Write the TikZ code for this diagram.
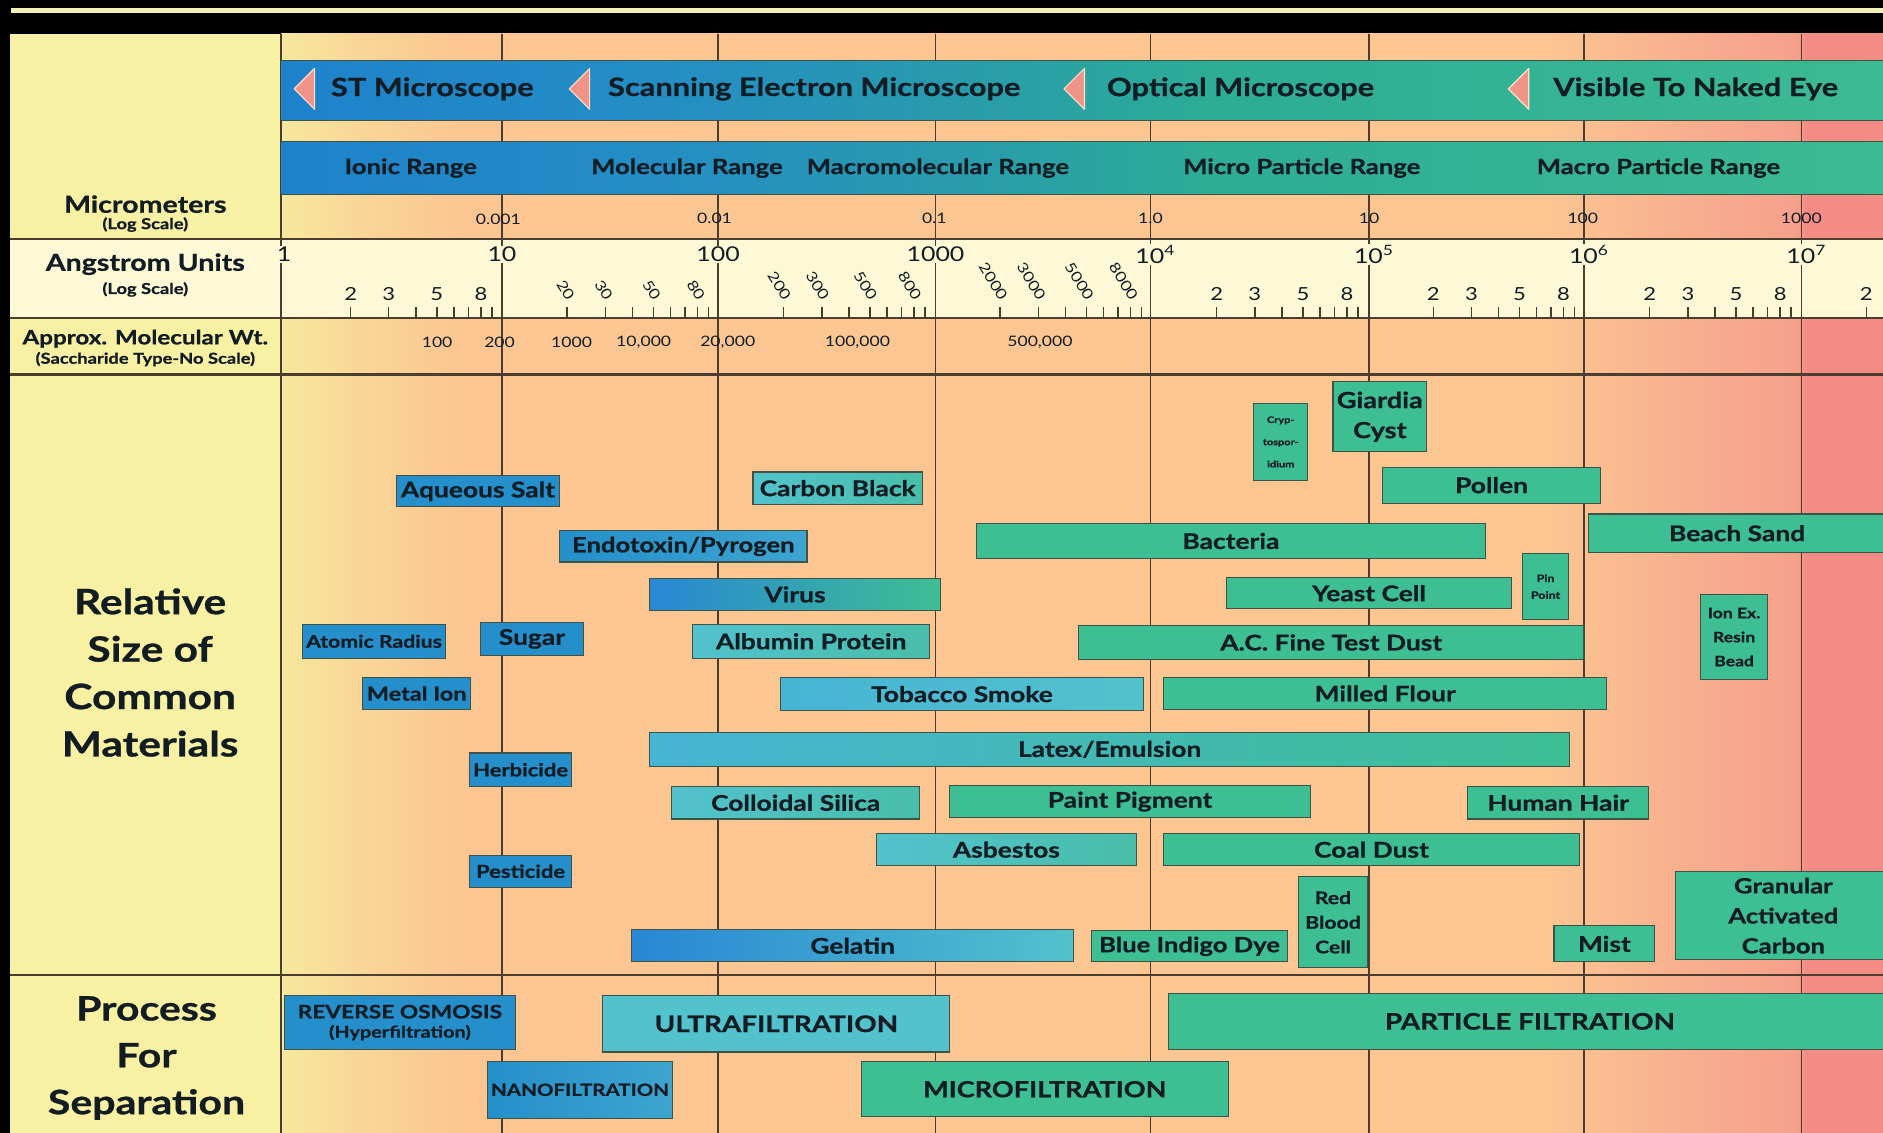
\documentclass[tikz,border=0pt]{standalone}
\usepackage{fontspec}
\setmainfont{Lato}[FakeStretch=1.22,BoldFeatures={FakeBold=0.8}]
\newcommand{\fs}[2]{\fontsize{#1}{#2}\selectfont}
\definecolor{cYel}{RGB}{248,240,162}
\definecolor{cCream}{RGB}{253,248,214}
\definecolor{cBlue}{RGB}{36,143,202}
\definecolor{cBlueL}{RGB}{62,165,208}
\definecolor{cBlueV}{RGB}{40,135,212}
\definecolor{cCyan}{RGB}{82,194,205}
\definecolor{cCyanB}{RGB}{70,180,212}
\definecolor{cCyanG}{RGB}{72,190,170}
\definecolor{cGreen}{RGB}{62,190,147}
\definecolor{bordc}{RGB}{62,82,70}
\definecolor{gridc}{RGB}{75,62,48}
\definecolor{txt}{RGB}{18,28,35}
\definecolor{triC}{RGB}{240,148,136}
\definecolor{triE}{RGB}{252,225,205}
\definecolor{topY}{RGB}{240,238,176}
\definecolor{bgA}{RGB}{246,232,158}
\definecolor{bgB}{RGB}{249,214,150}
\definecolor{bgC}{RGB}{251,198,146}
\definecolor{bgD}{RGB}{248,174,142}
\definecolor{bgE}{RGB}{246,160,140}
\definecolor{bgF}{RGB}{244,140,134}
\definecolor{bA}{RGB}{30,130,202}
\definecolor{bB}{RGB}{36,142,196}
\definecolor{bC}{RGB}{40,155,172}
\definecolor{bD}{RGB}{45,172,150}
\definecolor{bE}{RGB}{60,186,145}
\pgfdeclarehorizontalshading{bgsh}{100bp}{color(0bp)=(bgA); color(25bp)=(bgA); color(27.5bp)=(bgB); color(30.5bp)=(bgC); color(64.5bp)=(bgC); color(69bp)=(bgD); color(72.3bp)=(bgE); color(72.6bp)=(bgF); color(75bp)=(bgF); color(100bp)=(bgF)}
\pgfdeclarehorizontalshading{bandsh}{100bp}{color(0bp)=(bA); color(25bp)=(bA); color(37bp)=(bB); color(46bp)=(bC); color(54bp)=(bD); color(75bp)=(bE); color(100bp)=(bE)}
\newcommand{\bx}[7]{\node[mat,#6,minimum width={(#4)-(#2)},minimum height={(#5)-(#3)}] (#1) at ({((#2)+(#4))/2},{((#3)+(#5))/2}) {#7};}
\begin{document}
\begin{tikzpicture}[x=1pt,y=-1pt,
 mat/.style={draw=bordc,line width=0.9pt,inner sep=0pt,outer sep=0pt,text=txt,align=center,font=\bfseries\fs{18}{20}},
 blu/.style={fill=cBlue},
 grn/.style={fill=cGreen},
 cyn/.style={fill=cCyan},
 grad/.style 2 args={left color=#1,right color=#2},
 sm/.style={font=\bfseries\fs{15}{16}},
 gridl/.style={draw=gridc,line width=1.3pt},
 hrule/.style={draw=gridc,line width=2pt},
 hd/.style={text=txt,font=\bfseries\fs{19.5}{21},inner sep=0pt,align=center},
 sub/.style={text=txt,font=\bfseries\fs{12.5}{13},inner sep=0pt},
 scop/.style={text=txt,font=\bfseries\fs{21}{24},inner sep=0pt},
 rng/.style={text=txt,font=\bfseries\fs{17.5}{19},inner sep=0pt},
 um/.style={text=txt,font=\fs{12}{12},inner sep=0pt},
 ang/.style={text=txt,font=\fs{17}{17},inner sep=1pt,fill=cCream},
 angm/.style={text=txt,font=\fs{15}{15},inner sep=0.5pt},
 angr/.style={text=txt,font=\fs{12}{12},inner sep=0pt,rotate=-58,anchor=east},
 mw/.style={text=txt,font=\fs{12}{12},inner sep=0pt},
 tri/.style={fill=triC,draw=triE,line width=1pt,line join=round},
 big/.style={text=txt,font=\bfseries\fs{29}{39.5},align=center,inner sep=0pt}
]
\useasboundingbox (0,0) rectangle (1568,943.4);
% frame and backgrounds
\fill[black] (0,0) rectangle (1568,943.4);
\fill[topY] (9,7) rectangle (1568,11);
\shade[shading=bgsh] (234,28) rectangle (1568,943.4);
\fill[cYel] (8,28) rectangle (234,943.4);
\fill[cCream] (8,199) rectangle (1568,265);
% grid
\foreach \x in {234,418,598,779,958,1140,1319,1500} \draw[gridl] (\x,28) -- (\x,943.4);
\foreach \y in {199,265,312,812} \draw[hrule] (8,\y) -- (1568,\y);
% bands
\shade[shading=bandsh] (234,50) rectangle (1568,100);
\draw[bordc,line width=0.8pt] (234,50) -- (1568,50) (234,100) -- (1568,100);
\shade[shading=bandsh] (234,118) rectangle (1568,162);
\draw[bordc,line width=0.8pt] (234,118) -- (1568,118) (234,162) -- (1568,162);
\foreach \x in {245,474,886,1256} \filldraw[tri] (\x,74) -- (\x+17,57) -- (\x+17,91) -- cycle;
\node[scop] (stm) at (360,74) {ST Microscope};
\node[scop] (sem) at (678,74) {Scanning Electron Microscope};
\node[scop] (opt) at (1033,74) {Optical Microscope};
\node[scop] (vis) at (1412,74) {Visible To Naked Eye};
\node[rng] (r1) at (342,140) {Ionic Range};
\node[rng] (r2) at (572,140) {Molecular Range};
\node[rng] (r3) at (781,140) {Macromolecular Range};
\node[rng] (r4) at (1084,140) {Micro Particle Range};
\node[rng] (r5) at (1381,140) {Macro Particle Range};
% micrometer labels
\node[um] (u1) at (415,183) {0.001};
\node[um] (u2) at (595,182) {0.01};
\node[um] (u3) at (778,182) {0.1};
\node[um] (u4) at (958,182) {1.0};
\node[um] (u5) at (1140,182) {10};
\node[um] (u6) at (1318,182) {100};
\node[um] (u7) at (1500,182) {1000};
% angstrom labels
\node[ang] (a0) at (236.5,212) {1};
\node[ang] (a1) at (418,212) {10};
\node[ang] (a2) at (598,212) {100};
\node[ang] (a3) at (779,212) {1000};
\node[ang] (a4) at (962,212) {10\textsuperscript{4}};
\node[ang] (a5) at (1144,212) {10\textsuperscript{5}};
\node[ang] (a6) at (1323,212) {10\textsuperscript{6}};
\node[ang] (a7) at (1504,212) {10\textsuperscript{7}};
\foreach \k in {0,...,7} \foreach \m in {2,...,9}
  \draw[gridc,line width=1.2pt] ({237.7+180.3*(\k+log10(\m))},256) -- ({237.7+180.3*(\k+log10(\m))},265);
\foreach \k in {0,4,5,6} \foreach \m in {2,3,5,8}
  \node[angm] (t\k\m) at ({237.7+180.3*(\k+log10(\m))},245) {\m};
\node[angm] (t72) at ({237.7+180.3*(7+log10(2))},245) {2};
\foreach \k/\s in {1/0,2/00,3/000} \foreach \m in {2,3,5,8}
  \node[angr] (r\k\m) at ({241+180.3*(\k+log10(\m))},249) {\m\s};
% molecular weight labels
\node[mw] (w1) at (364,285) {100};
\node[mw] (w2) at (416,285) {200};
\node[mw] (w3) at (476,285) {1000};
\node[mw] (w4) at (536,285) {10,000};
\node[mw] (w5) at (606,285) {20,000};
\node[mw] (w6) at (714,285) {100,000};
\node[mw] (w7) at (866,285) {500,000};
% left column
\node[hd] (hmic) at (121,170) {Micrometers};
\node[sub] (hmicls) at (121,187) {(Log Scale)};
\node[hd] (hang) at (121,220) {Angstrom Units};
\node[sub] (hangls) at (121,241) {(Log Scale)};
\node[hd,font=\bfseries\fs{16.5}{18}] (hmw) at (121,282) {Approx. Molecular Wt.};
\node[sub] (hmwsub) at (121,299) {(Saccharide Type-No Scale)};
\node[big] (hrel) at (125,560) {Relative\\Size of\\Common\\Materials};
\node[big,font=\bfseries\fs{28}{39}] (hproc) at (122,881) {Process\\For\\Separation};
% materials
\bx{aq}{330}{396}{466}{422}{blu}{Aqueous Salt}
\bx{cb}{627}{393}{768}{420}{grad={cCyan}{cCyanG}}{Carbon Black}
\bx{endo}{466}{442}{672}{468}{grad={cBlue}{cBlueL},font=\bfseries\fs{17.5}{19}}{Endotoxin/Pyrogen}
\bx{virus}{541}{482}{783}{508}{grad={cBlueV}{cGreen}}{Virus}
\bx{atom}{252}{520}{371}{548}{blu,font=\bfseries\fs{14.5}{15}}{Atomic Radius}
\bx{sugar}{400}{518}{486}{546}{blu}{Sugar}
\bx{alb}{577}{520}{774}{548}{grad={cCyan}{cCyanG}}{Albumin Protein}
\bx{metal}{302}{564}{392}{591}{blu,font=\bfseries\fs{16}{17}}{Metal Ion}
\bx{tob}{650}{564}{952}{592}{grad={cCyanB}{cCyan}}{Tobacco Smoke}
\bx{latex}{541}{610}{1307}{638}{grad={cCyanB}{cGreen}}{Latex/Emulsion}
\bx{herb}{391}{627}{476}{655}{blu,sm}{Herbicide}
\bx{coll}{559}{655}{766}{682}{grad={cCyan}{cCyanG}}{Colloidal Silica}
\bx{paint}{791}{654}{1091}{681}{grn}{Paint Pigment}
\bx{hair}{1222}{655}{1373}{682}{grn}{Human Hair}
\bx{asb}{730}{694}{946}{721}{grad={cCyan}{cCyanG}}{Asbestos}
\bx{coal}{969}{694}{1315}{721}{grn}{Coal Dust}
\bx{pest}{391}{712}{476}{739}{blu,sm}{Pesticide}
\bx{rbc}{1081}{730}{1139}{806}{grn,font=\bfseries\fs{14.5}{20.5}}{Red\\Blood\\Cell}
\bx{gel}{526}{774}{894}{801}{grad={cBlueV}{cCyan}}{Gelatin}
\bx{indigo}{909}{775}{1072}{801}{grn,font=\bfseries\fs{17.5}{19}}{Blue Indigo Dye}
\bx{mist}{1294}{771}{1378}{801}{grn}{Mist}
\bx{gac}{1395}{726}{1575}{799}{grn,font=\bfseries\fs{17.5}{25}}{Granular\\Activated\\Carbon}
\bx{crypto}{1044}{336}{1089}{400}{grn,font=\bfseries\fs{7.5}{18.5}}{Cryp-\\tospor-\\idium}
\bx{giardia}{1110}{318}{1188}{376}{grn,font=\bfseries\fs{18.5}{25}}{Giardia\\Cyst}
\bx{pollen}{1151}{389}{1333}{419}{grn}{Pollen}
\bx{bact}{813}{436}{1237}{465}{grn}{Bacteria}
\bx{sand}{1323}{428}{1570}{460}{grn}{Beach Sand}
\bx{yeast}{1021}{481}{1259}{507}{grn}{Yeast Cell}
\bx{pin}{1268}{461}{1306}{516}{grn,font=\bfseries\fs{8.5}{14}}{Pin\\Point}
\bx{acd}{898}{521}{1319}{549}{grn}{A.C. Fine Test Dust}
\bx{ion}{1416}{495}{1472}{566}{grn,font=\bfseries\fs{12}{20}}{Ion Ex.\\Resin\\Bead}
\bx{flour}{969}{564}{1338}{591}{grn}{Milled Flour}
% processes
\bx{ro}{237}{829}{429}{874}{blu,font=\bfseries\fs{15.5}{16}}{REVERSE OSMOSIS\\{\fs{13.5}{15}(Hyperfiltration)}}
\bx{uf}{502}{829}{791}{876}{cyn,font=\bfseries\fs{19}{20}}{ULTRAFILTRATION}
\bx{nf}{406}{884}{560}{931}{grad={cBlue}{cBlueL},font=\bfseries\fs{14}{16}}{NANOFILTRATION}
\bx{mf}{717}{884}{1023}{930}{grn,font=\bfseries\fs{18.5}{20}}{MICROFILTRATION}
\bx{pf}{973}{827}{1575}{874}{grn,font=\bfseries\fs{19}{20}}{PARTICLE FILTRATION}
\end{tikzpicture}
\end{document}
